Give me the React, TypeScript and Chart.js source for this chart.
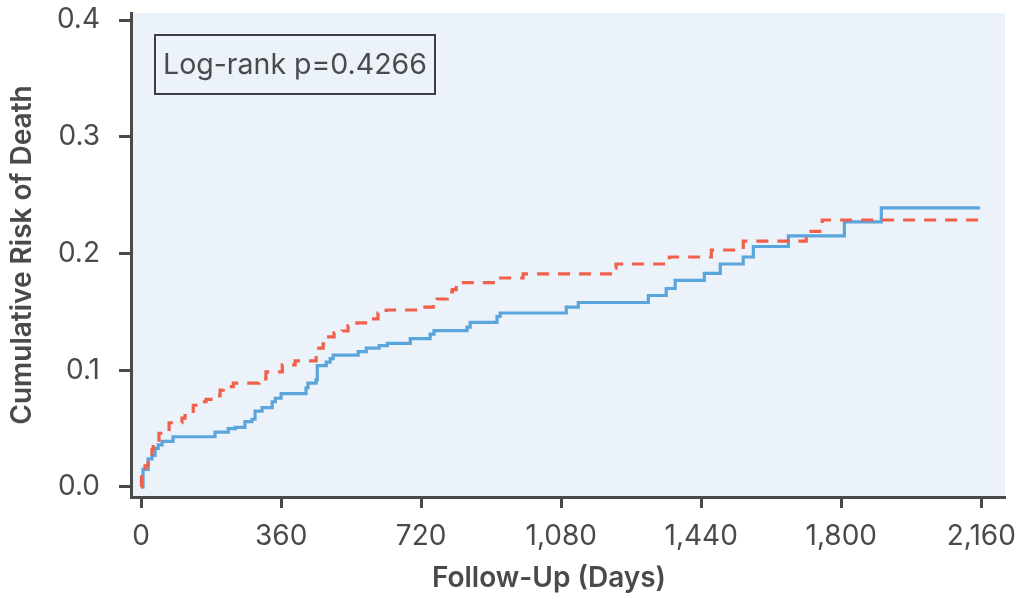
import React, { useEffect, useRef } from "react";
import { Chart, registerables } from "chart.js";

Chart.register(...registerables);

// Blue (solid) curve: step days and cumulative risk after each step
const blueDays = [0, 5, 18, 28, 36, 44, 54, 82, 190, 224, 242, 267, 285, 293, 311, 337, 345, 360, 424, 429, 450, 453, 476, 486, 494, 558, 579, 612, 633, 692, 743, 753, 838, 846, 915, 923, 1093, 1124, 1304, 1350, 1373, 1448, 1489, 1548, 1574, 1664, 1808, 1903, 2157];
const blueRisk = [0, 0.015, 0.024, 0.027, 0.033, 0.036, 0.039, 0.043, 0.047, 0.05, 0.051, 0.056, 0.058, 0.065, 0.068, 0.073, 0.076, 0.08, 0.085, 0.089, 0.092, 0.104, 0.107, 0.11, 0.113, 0.116, 0.119, 0.121, 0.123, 0.127, 0.131, 0.134, 0.137, 0.141, 0.146, 0.149, 0.154, 0.158, 0.164, 0.17, 0.177, 0.183, 0.191, 0.197, 0.206, 0.215, 0.227, 0.239, 0.239];

// Red (dashed) curve
const redDays = [0, 1, 10, 18, 28, 31, 46, 72, 105, 113, 134, 141, 167, 185, 203, 211, 237, 303, 321, 363, 396, 450, 468, 478, 496, 517, 532, 555, 590, 609, 630, 723, 751, 761, 787, 800, 810, 918, 982, 1214, 1221, 1358, 1466, 1548, 1710, 1751, 2157];
const redRisk = [0, 0.013, 0.018, 0.021, 0.032, 0.036, 0.046, 0.055, 0.059, 0.063, 0.07, 0.073, 0.075, 0.078, 0.083, 0.086, 0.089, 0.0925, 0.0985, 0.1045, 0.108, 0.119, 0.1225, 0.1285, 0.132, 0.1336, 0.138, 0.1405, 0.144, 0.149, 0.1516, 0.154, 0.1585, 0.161, 0.167, 0.169, 0.175, 0.179, 0.1825, 0.1875, 0.191, 0.197, 0.203, 0.2105, 0.219, 0.2287, 0.2287];

const xTicks = [0, 360, 720, 1080, 1440, 1800, 2160];
const yTicks = [0, 0.1, 0.2, 0.3, 0.4];
const annotationText = "Log-rank p=0.4266";
const xTitle = "Follow-Up (Days)";
const yTitle = "Cumulative Risk of Death";

const TEXT = "#4a4a4a";
const FONT = "Inter, 'Open Sans', 'DejaVu Sans', sans-serif";

export default function App() {
  const ref = useRef<HTMLCanvasElement | null>(null);

  useEffect(() => {
    document.body.style.margin = "0";
    const canvas = ref.current;
    if (!canvas) return;

    const bgPlugin = {
      id: "plotBg",
      beforeDraw(chart: any) {
        const { ctx, chartArea } = chart;
        ctx.save();
        ctx.fillStyle = "#ecf2fa";
        ctx.fillRect(chartArea.left, chartArea.top, chartArea.right - chartArea.left, chartArea.bottom - chartArea.top);
        ctx.restore();
      },
    };

    const textPlugin = {
      id: "extraText",
      afterDraw(chart: any) {
        const { ctx, chartArea } = chart;
        ctx.save();
        // Log-rank box
        const x = chartArea.left + 24;
        const y = chartArea.top + 22;
        const w = 280;
        const h = 59;
        ctx.lineWidth = 2;
        ctx.strokeStyle = "#3f3f3f";
        ctx.strokeRect(x, y, w, h);
        ctx.font = `28.5px ${FONT}`;
        ctx.fillStyle = TEXT;
        ctx.textAlign = "center";
        ctx.textBaseline = "middle";
        ctx.fillText(annotationText, x + w / 2, y + h / 2 + 1);
        // X axis title
        ctx.font = `600 28px ${FONT}`;
        ctx.fillText(xTitle, 549, 579);
        ctx.restore();
      },
    };

    const chart = new Chart(canvas, {
      type: "line",
      data: {
        datasets: [
          {
            label: "Blue",
            data: blueDays.map((d, i) => ({ x: d, y: blueRisk[i] })),
            borderColor: "#5aa5dc",
            borderWidth: 3.2,
            stepped: "before",
            pointRadius: 0,
            fill: false,
            order: 1,
          },
          {
            label: "Red",
            data: redDays.map((d, i) => ({ x: d, y: redRisk[i] })),
            borderColor: "#f0604a",
            borderWidth: 3.2,
            borderDash: [12, 9],
            stepped: "before",
            pointRadius: 0,
            fill: false,
            order: 0,
          },
        ],
      },
      options: {
        animation: false,
        responsive: false,
        devicePixelRatio: 1,
        layout: { padding: { top: 13, right: 17, left: 0, bottom: 0 } },
        plugins: { legend: { display: false }, tooltip: { enabled: false } },
        scales: {
          x: {
            type: "linear",
            min: -26,
            max: 2221,
            afterBuildTicks: (axis: any) => {
              axis.ticks = xTicks.map((v) => ({ value: v }));
            },
            afterFit: (axis: any) => {
              axis.height = 101;
              axis.paddingLeft = 0;
              axis.paddingRight = 0;
            },
            ticks: {
              color: TEXT,
              font: { size: 28, family: FONT },
              padding: 12,
              maxRotation: 0,
              autoSkip: false,
              callback: (v: any) => Number(v).toLocaleString("en-US"),
            },
            grid: { drawOnChartArea: false, drawTicks: true, tickLength: 11, tickColor: TEXT, tickWidth: 3 },
            border: { display: true, color: TEXT, width: 3 },
            title: { display: false },
          },
          y: {
            type: "linear",
            min: -0.0086,
            max: 0.406,
            afterBuildTicks: (axis: any) => {
              axis.ticks = yTicks.map((v) => ({ value: v }));
            },
            afterFit: (axis: any) => {
              axis.width = 131;
              axis.paddingTop = 0;
              axis.paddingBottom = 0;
            },
            ticks: {
              color: TEXT,
              font: { size: 28, family: FONT },
              padding: 19,
              callback: (v: any) => Number(v).toFixed(1),
            },
            grid: { drawOnChartArea: false, drawTicks: true, tickLength: 12, tickColor: TEXT, tickWidth: 3 },
            border: { display: true, color: TEXT, width: 3 },
            title: {
              display: true,
              text: yTitle,
              color: TEXT,
              font: { size: 28, weight: "600", family: FONT },
              padding: { top: 6, bottom: 0 },
            },
          },
        },
      },
      plugins: [bgPlugin, textPlugin],
    });

    return () => chart.destroy();
  }, []);

  return (
    <div style={{ width: 1022, height: 598 }}>
      <canvas ref={ref} width={1022} height={598} style={{ display: "block", width: 1022, height: 598 }} />
    </div>
  );
}
